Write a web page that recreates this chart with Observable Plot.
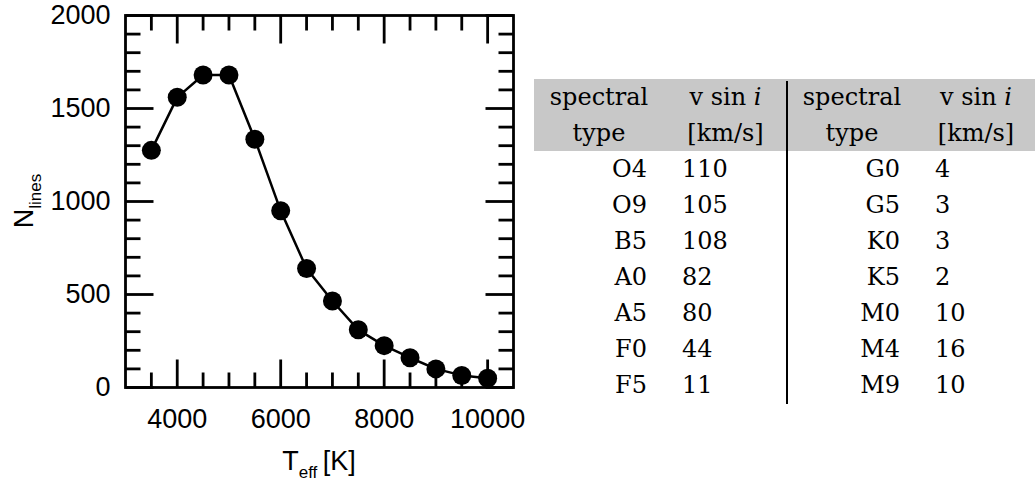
<!DOCTYPE html>
<html>
<head>
<meta charset="utf-8">
<script src="https://cdn.jsdelivr.net/npm/d3@7"></script>
<script src="https://cdn.jsdelivr.net/npm/@observablehq/plot@0.6"></script>
<style>
  body { margin: 0; background: #fff; }
  #wrap { position: relative; width: 1035px; height: 481px; overflow: hidden; background: #fff; }
  #chart { position: absolute; left: 0; top: 0; }
  #tbl { position: absolute; left: 0; top: 0; width: 1035px; height: 481px; font-family: "DejaVu Serif", serif; font-size: 24px; color: #000; }
  .cell { position: absolute; height: 36px; line-height: 36px; white-space: nowrap; }
</style>
</head>
<body>
<div id="wrap">
  <div id="chart"></div>
  <div id="tbl"></div>
</div>
<script>
// ---------- data ----------
const teff   = [3500, 4000, 4500, 5000, 5500, 6000, 6500, 7000, 7500, 8000, 8500, 9000, 9500, 10000];
const nlines = [1275, 1560, 1680, 1680, 1335, 950, 640, 465, 310, 225, 160, 100, 65, 50];

const xMajorTicks = [4000, 6000, 8000, 10000];
const xMinorTicks = [3500, 4500, 5000, 5500, 6500, 7000, 7500, 8500, 9000, 9500];
const yMajorTicks = [0, 500, 1000, 1500, 2000];
const yMinorTicks = [100, 200, 300, 400, 600, 700, 800, 900, 1100, 1200, 1300, 1400, 1600, 1700, 1800, 1900];

const xDomain = [3000, 10500];
const yDomain = [0, 2000];

const headerTop    = ["spectral", "v sin ", "spectral", "v sin "];
const headerBottom = ["type", "[km/s]", "type", "[km/s]"];
const leftTypes  = ["O4", "O9", "B5", "A0", "A5", "F0", "F5"];
const leftVsini  = [110, 105, 108, 82, 80, 44, 11];
const rightTypes = ["G0", "G5", "K0", "K5", "M0", "M4", "M9"];
const rightVsini = [4, 3, 3, 2, 10, 16, 10];

// ---------- plot ----------
const points = teff.map((t, i) => ({t, n: nlines[i]}));
const tickShape = { draw(ctx, l) { ctx.moveTo(0, 0); ctx.lineTo(0, -l); } };
const SW = 2.8, MAJ = 28, MIN = 15;

function ticks(vals, fixed, axis, rotate, len) {
  return Plot.vector(vals, {
    x: axis === "x" ? d => d : () => fixed,
    y: axis === "x" ? () => fixed : d => d,
    length: len, rotate, anchor: "start", shape: tickShape,
    stroke: "black", strokeWidth: SW, className: "minorticks"
  });
}

const plot = Plot.plot({
  width: 530, height: 481,
  marginLeft: 125, marginRight: 17, marginTop: 15, marginBottom: 94,
  style: { fontFamily: "Liberation Sans, Arial, sans-serif", fontSize: "27px", color: "black", background: "white" },
  x: { domain: xDomain },
  y: { domain: yDomain },
  marks: [
    Plot.axisX(xMajorTicks, { tickSize: 0, tickPadding: 21, label: null, fontSize: 27, tickFormat: d => String(d) }),
    Plot.axisY(yMajorTicks, { tickSize: 0, tickPadding: 15, label: null, fontSize: 27, tickFormat: d => String(d) }),
    ticks(xMajorTicks, yDomain[0], "x", 0, MAJ),
    ticks(xMinorTicks, yDomain[0], "x", 0, MIN),
    ticks(xMajorTicks, yDomain[1], "x", 180, MAJ),
    ticks(xMinorTicks, yDomain[1], "x", 180, MIN),
    ticks(yMajorTicks, xDomain[0], "y", 90, MAJ),
    ticks(yMinorTicks, xDomain[0], "y", 90, MIN),
    ticks(yMajorTicks, xDomain[1], "y", -90, MAJ),
    ticks(yMinorTicks, xDomain[1], "y", -90, MIN),
    Plot.frame({ stroke: "black", strokeWidth: SW }),
    Plot.line(points, { x: "t", y: "n", stroke: "black", strokeWidth: 2.5 }),
    Plot.dot(points, { x: "t", y: "n", r: 9.5, fill: "black", stroke: "none" })
  ]
});
document.getElementById("chart").appendChild(plot);
// make sure the tick strokes are as thick as the frame
d3.select(plot).selectAll("g[aria-label='vector'], g[aria-label='vector'] path")
  .attr("stroke-width", SW).attr("stroke-linecap", "butt");

// axis titles with subscripts
const svg = d3.select(plot);
const xs = plot.scale("x"), ys = plot.scale("y");
const xMid = xs.apply((xDomain[0] + xDomain[1]) / 2);
const yMid = ys.apply((yDomain[0] + yDomain[1]) / 2);
const xt = svg.append("text")
  .attr("x", xMid).attr("y", 470).attr("text-anchor", "middle")
  .attr("font-family", "Liberation Sans, Arial, sans-serif").attr("font-size", 27).attr("fill", "black");
xt.append("tspan").text("T");
xt.append("tspan").attr("dy", 8).attr("font-size", 17).text("eff");
xt.append("tspan").attr("dy", -8).text("\u2009[K]");

const yt = svg.append("text")
  .attr("transform", `translate(33,${yMid}) rotate(-90)`).attr("text-anchor", "middle")
  .attr("font-family", "Liberation Sans, Arial, sans-serif").attr("font-size", 27).attr("fill", "black");
yt.append("tspan").text("N");
yt.append("tspan").attr("dy", 8).attr("font-size", 17).text("lines");

// ---------- table ----------
const tbl = document.getElementById("tbl");
const colEdges = [534, 664, 787, 917, 1035];
const tTop = 79, rowH = 36;
function div(style, html) {
  const d = document.createElement("div");
  Object.assign(d.style, style);
  if (html !== undefined) d.innerHTML = html;
  tbl.appendChild(d);
  return d;
}
// header background
div({ position: "absolute", left: colEdges[0] + "px", top: tTop + "px", width: (colEdges[4] - colEdges[0]) + "px", height: 2 * rowH + "px", background: "#c8c8c8" });
// header text
for (let c = 0; c < 4; c++) {
  const w = colEdges[c + 1] - colEdges[c];
  const top = headerTop[c] + (c % 2 === 1 ? '<i style="font-family:\'DejaVu Serif\',serif">i</i>' : "");
  const e1 = div({ left: colEdges[c] + "px", top: tTop + "px", width: w + "px", textAlign: "center" }, top);
  e1.className = "cell";
  const e2 = div({ left: colEdges[c] + "px", top: (tTop + rowH) + "px", width: w + "px", textAlign: "center" });
  e2.className = "cell"; e2.textContent = headerBottom[c];
}
// body rows
function bodyCol(values, c, align) {
  values.forEach((v, i) => {
    const w = colEdges[c + 1] - colEdges[c];
    const e = div({ left: colEdges[c] + "px", top: (tTop + 2 * rowH + i * rowH) + "px", width: w + "px",
      textAlign: align, boxSizing: "border-box",
      paddingRight: align === "right" ? "17px" : "0", paddingLeft: align === "left" ? "18px" : "0" });
    e.className = "cell"; e.textContent = String(v);
  });
}
bodyCol(leftTypes, 0, "right");
bodyCol(leftVsini, 1, "left");
bodyCol(rightTypes, 2, "right");
bodyCol(rightVsini, 3, "left");
// vertical rule
div({ position: "absolute", left: (colEdges[2] - 0.75) + "px", top: (tTop + 2) + "px", width: "1.5px", height: (2 * rowH + leftTypes.length * rowH - 1) + "px", background: "black" });
</script>
</body>
</html>
